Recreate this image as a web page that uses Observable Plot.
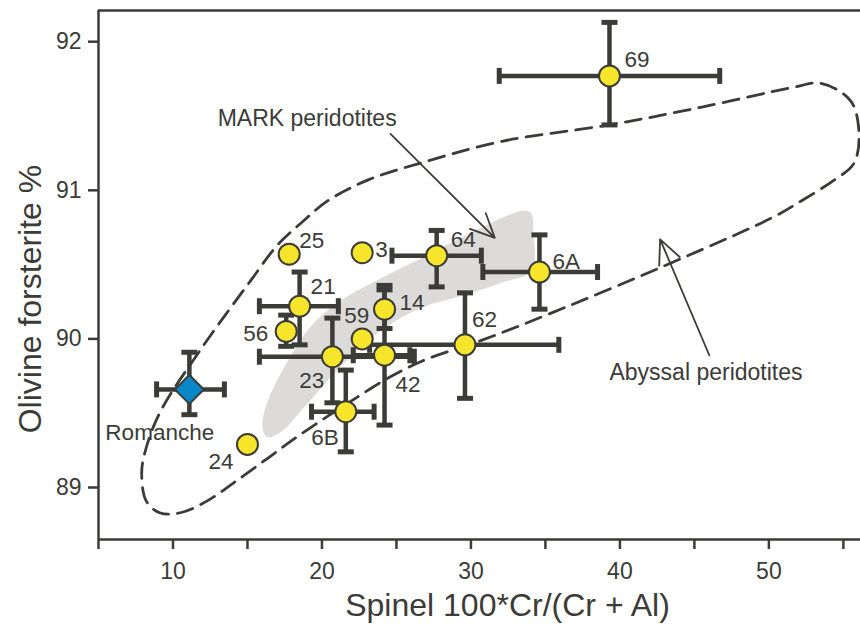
<!DOCTYPE html>
<html>
<head>
<meta charset="utf-8">
<script src="https://cdn.jsdelivr.net/npm/d3@7"></script>
<script src="https://cdn.jsdelivr.net/npm/@observablehq/plot@0.6"></script>
<style>
  html, body { margin: 0; padding: 0; background: #ffffff; }
  #chart { width: 860px; height: 626px; overflow: hidden; }
</style>
</head>
<body>
<div id="chart"></div>
<script>
// ---- Data ----
const sampleLabels = ["69", "25", "3", "64", "6A", "21", "14", "59", "56", "62", "23", "42", "6B", "24"];
const spinelCrNo  = [39.3, 17.8, 22.7, 27.7, 34.6, 18.5, 24.2, 22.7, 17.6, 29.6, 20.7, 24.2, 21.6, 15.0];
const olivineFo   = [91.77, 90.57, 90.58, 90.56, 90.45, 90.22, 90.20, 90.00, 90.05, 89.96, 89.88, 89.89, 89.51, 89.29];
const crLow  = [31.9, null, null, 24.7, 30.8, 15.8, null, null, null, 23.2, 15.8, 22.1, 19.3, null];
const crHigh = [46.7, null, null, 30.7, 38.5, 21.1, null, null, null, 35.9, 26.2, 25.9, 23.5, null];
const foLow  = [91.44, null, null, 90.35, 90.20, 89.96, 90.07, null, 89.95, 89.60, 89.57, 89.42, 89.24, null];
const foHigh = [92.13, null, null, 90.73, 90.70, 90.45, 90.33, null, 90.16, 90.31, 90.14, 90.36, 89.79, null];

const romancheLabel = "Romanche";
const romancheCr = 11.1, romancheFo = 89.66;
const romancheCrLow = 8.9, romancheCrHigh = 13.45;
const romancheFoLow = 89.49, romancheFoHigh = 89.91;

// Abyssal peridotite field (dashed envelope)
const abyssalCr = [7.9, 8.1, 9.1, 11.8, 15.2, 17.0, 18.6, 20.4, 23.1, 26.5, 32.1, 39.3, 45.5, 51.5, 53.5, 55.5, 56.05, 55.7, 54.4, 52.2, 50.3, 44.1, 35.3, 30.7, 26.7, 24.5, 22.4, 18.6, 16.4, 14.05, 12.3, 10.5, 9.1, 8.2];
const abyssalFo = [89.09, 89.23, 89.50, 89.92, 90.39, 90.63, 90.78, 90.93, 91.07, 91.18, 91.33, 91.44, 91.56, 91.69, 91.72, 91.60, 91.38, 91.18, 91.07, 90.93, 90.82, 90.54, 90.17, 89.99, 89.85, 89.74, 89.61, 89.36, 89.20, 89.03, 88.91, 88.83, 88.83, 88.91];

// MARK peridotite field (grey)
const markCr = [16.0, 16.4, 17.7, 19.3, 21.3, 24.0, 27.2, 30.1, 33.4, 34.0, 34.2, 34.1, 32.1, 29.4, 26.7, 24.0, 21.3, 18.9, 17.2, 16.3];
const markFo = [89.42, 89.59, 89.85, 90.09, 90.26, 90.41, 90.57, 90.72, 90.86, 90.85, 90.70, 90.46, 90.38, 90.29, 90.21, 90.06, 89.82, 89.55, 89.37, 89.34];

const xTicks = [5, 10, 15, 20, 25, 30, 35, 40, 45, 50, 55];
const xTickLabels = [10, 20, 30, 40, 50];
const yTicks = [89, 90, 91, 92];
const xTitle = "Spinel 100*Cr/(Cr + Al)";
const yTitle = "Olivine forsterite %";
const markText = "MARK peridotites";
const abyssalText = "Abyssal peridotites";

// ---- Build tables ----
const samples = sampleLabels.map((label, i) => ({
  label, x: spinelCrNo[i], y: olivineFo[i],
  xlo: crLow[i], xhi: crHigh[i], ylo: foLow[i], yhi: foHigh[i]
}));
const romanche = [{label: romancheLabel, x: romancheCr, y: romancheFo, xlo: romancheCrLow, xhi: romancheCrHigh, ylo: romancheFoLow, yhi: romancheFoHigh}];
const abyssal = abyssalCr.map((x, i) => ({x, y: abyssalFo[i]}));
const mark = markCr.map((x, i) => ({x, y: markFo[i]}));

// annotation anchors (data space)
const markNote = [{x: 13.0, y: 91.48, x1: 24.6, y1: 91.38, x2: 31.6, y2: 90.68}];
const abyssalNote = [{x: 39.3, y: 89.77, x1: 46.0, y1: 89.89, x2: 42.7, y2: 90.67}];

// label placement (layout)
const labelPlace = {
  "69": [15, -16, "start"], "25": [10, -13, "start"], "3": [13, -3, "start"],
  "64": [14, -16, "start"], "6A": [13, -10, "start"], "21": [11, -19, "start"],
  "14": [15, -6, "start"], "59": [7, -23, "end"], "56": [-18, 2, "end"],
  "62": [7, -25, "start"], "23": [-8, 24, "end"], "42": [11, 30, "start"],
  "6B": [-7, 26, "end"], "24": [-14, 17, "end"]
};

const ink = "#3b3b37";
const capV = {draw(ctx, size) { const r = Math.sqrt(size / Math.PI); ctx.moveTo(0, -r); ctx.lineTo(0, r); }};
const capH = {draw(ctx, size) { const r = Math.sqrt(size / Math.PI); ctx.moveTo(-r, 0); ctx.lineTo(r, 0); }};
const diamond = {draw(ctx, size) { const r = Math.sqrt(size / Math.PI); ctx.moveTo(0, -r); ctx.lineTo(r, 0); ctx.lineTo(0, r); ctx.lineTo(-r, 0); ctx.closePath(); }};

const xDomain = [5, 56.15];
const yDomain = [88.65, 92.21];

const errMarks = (data) => [
  Plot.link(data.filter(d => d.xlo != null), {x1: "xlo", x2: "xhi", y1: "y", y2: "y", stroke: ink, strokeWidth: 4.5}),
  Plot.link(data.filter(d => d.ylo != null), {x1: "x", x2: "x", y1: "ylo", y2: "yhi", stroke: ink, strokeWidth: 4.5}),
  Plot.dot(data.filter(d => d.xlo != null), {x: "xlo", y: "y", symbol: capV, r: 8, stroke: ink, strokeWidth: 5}),
  Plot.dot(data.filter(d => d.xlo != null), {x: "xhi", y: "y", symbol: capV, r: 8, stroke: ink, strokeWidth: 5}),
  Plot.dot(data.filter(d => d.ylo != null), {x: "x", y: "ylo", symbol: capH, r: 8, stroke: ink, strokeWidth: 5}),
  Plot.dot(data.filter(d => d.ylo != null), {x: "x", y: "yhi", symbol: capH, r: 8, stroke: ink, strokeWidth: 5})
];

const labelMarks = samples.map(d => {
  const [dx, dy, anchor] = labelPlace[d.label];
  return Plot.text([d], {x: "x", y: "y", text: "label", dx, dy, textAnchor: anchor, fontSize: 22.5, fill: ink});
});

const chart = Plot.plot({
  width: 860,
  height: 626,
  marginLeft: 98,
  marginRight: 0,
  marginTop: 10,
  marginBottom: 87,
  x: {domain: xDomain},
  y: {domain: yDomain},
  style: {fontFamily: "'Liberation Sans', Arial, Helvetica, sans-serif", color: ink, background: "#ffffff", overflow: "visible"},
  marks: [
    Plot.line(mark, {x: "x", y: "y", curve: "catmull-rom-closed", fill: "#dcdbd9", stroke: "none"}),
    Plot.line(abyssal, {x: "x", y: "y", curve: "catmull-rom-closed", stroke: ink, strokeWidth: 2.8, strokeDasharray: "16,9", fill: "none"}),
    Plot.arrow(markNote, {x1: "x1", y1: "y1", x2: "x2", y2: "y2", stroke: ink, strokeWidth: 1.8, headLength: 22, headAngle: 50}),
    Plot.arrow(abyssalNote, {x1: "x1", y1: "y1", x2: "x2", y2: "y2", stroke: ink, strokeWidth: 1.8, headLength: 22, headAngle: 50}),
    Plot.text(markNote, {x: "x", y: "y", text: () => markText, textAnchor: "start", fontSize: 23, fill: ink}),
    Plot.text(abyssalNote, {x: "x", y: "y", text: () => abyssalText, textAnchor: "start", fontSize: 23, fill: ink}),
    ...errMarks(romanche),
    ...errMarks(samples),
    Plot.dot(romanche, {x: "x", y: "y", symbol: diamond, r: 14.5, fill: "#0a87c9", stroke: ink, strokeWidth: 2}),
    Plot.dot(samples, {x: "x", y: "y", r: 10.5, fill: "#f7e52c", stroke: ink, strokeWidth: 2}),
    ...labelMarks,
    Plot.text(romanche, {x: "x", y: "y", text: "label", dx: -84, dy: 43, textAnchor: "start", fontSize: 22.5, fill: ink}),
    // frame
    Plot.ruleX([xDomain[0]], {stroke: ink, strokeWidth: 2.5}),
    Plot.ruleY([yDomain[0]], {stroke: ink, strokeWidth: 2.5}),
    Plot.ruleY([yDomain[1]], {stroke: ink, strokeWidth: 2.5}),
    // axes
    Plot.axisX({ticks: xTicks, tickSize: 10, tickPadding: 13, strokeWidth: 2.5, fontSize: 23,
      tickFormat: d => xTickLabels.includes(d) ? String(d) : "", label: null}),
    Plot.axisY({ticks: yTicks, tickSize: 10, tickPadding: 7, strokeWidth: 2.5, fontSize: 23,
      tickFormat: d => String(d), label: null}),
    Plot.text([xTitle], {frameAnchor: "bottom", text: d => d, dx: 28, dy: 66, fontSize: 32, fill: ink, textAnchor: "middle", lineAnchor: "middle"}),
    Plot.text([yTitle], {frameAnchor: "left", text: d => d, rotate: -90, dx: -68, dy: 24, fontSize: 32, fill: ink, textAnchor: "middle", lineAnchor: "middle"})
  ]
});
document.getElementById("chart").appendChild(chart);
</script>
</body>
</html>
